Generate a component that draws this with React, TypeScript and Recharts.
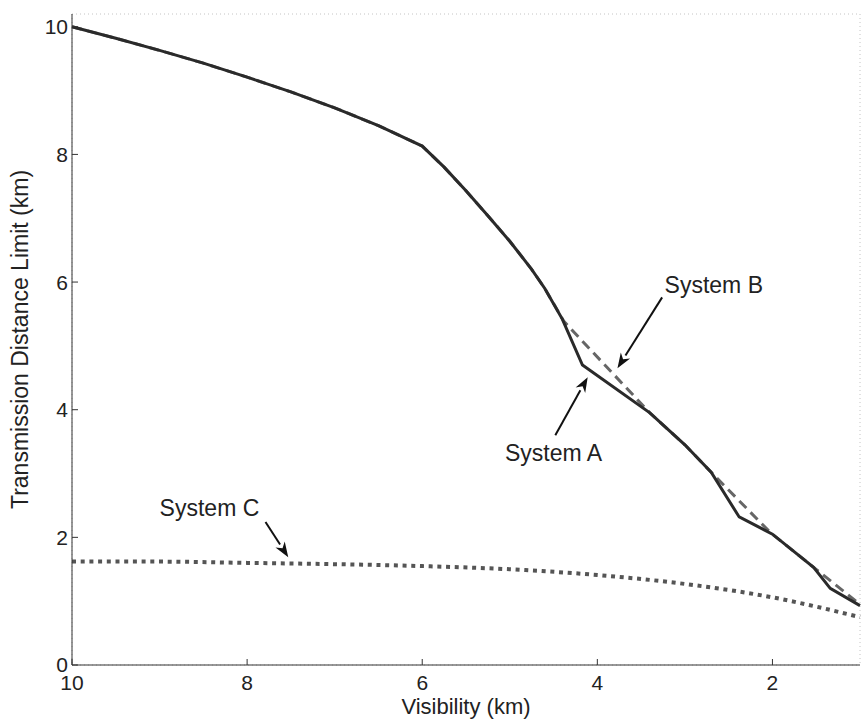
import { LineChart, Line, XAxis, YAxis, CartesianGrid, ReferenceLine, ReferenceDot } from 'recharts'

// visibility (km) -> transmission distance limit (km)
const SYS_A_X = [10, 9.5, 9, 8.5, 8, 7.5, 7, 6.5, 6, 5.75, 5.5, 5.25, 5, 4.75, 4.6, 4.4, 4.17, 3.4, 3.0, 2.7, 2.38, 2.0, 1.53, 1.34, 1.0]
const SYS_A_Y = [10.0, 9.82, 9.63, 9.43, 9.21, 8.98, 8.73, 8.45, 8.13, 7.8, 7.43, 7.04, 6.64, 6.2, 5.9, 5.42, 4.7, 3.95, 3.45, 3.02, 2.32, 2.05, 1.53, 1.2, 0.93]

const SYS_B_X = [10, 9.5, 9, 8.5, 8, 7.5, 7, 6.5, 6, 5.75, 5.5, 5.25, 5, 4.75, 4.6, 4.38, 3.4, 3.0, 2.7, 2.02, 1.53, 1.0]
const SYS_B_Y = [10.0, 9.82, 9.63, 9.43, 9.21, 8.98, 8.73, 8.45, 8.13, 7.8, 7.43, 7.04, 6.64, 6.2, 5.9, 5.38, 3.95, 3.45, 3.02, 2.07, 1.53, 0.95]

const SYS_C_X = [10, 9, 8, 7, 6, 5, 4, 3, 2, 1]
const SYS_C_Y = [1.62, 1.62, 1.6, 1.58, 1.55, 1.5, 1.41, 1.27, 1.06, 0.75]

const X_TICKS = [10, 8, 6, 4, 2]
const Y_TICKS = [0, 2, 4, 6, 8, 10]

const LABELS = [
  { text: 'System A', x: 4.5, y: 3.33 },
  { text: 'System B', x: 2.67, y: 5.95 },
  { text: 'System C', x: 8.43, y: 2.46 },
]
// [tail, head] in data units
const ARROWS = [
  [{ x: 4.48, y: 3.6 }, { x: 4.11, y: 4.51 }],
  [{ x: 3.26, y: 5.76 }, { x: 3.77, y: 4.65 }],
  [{ x: 7.79, y: 2.24 }, { x: 7.53, y: 1.69 }],
]

const toPoints = (xs: number[], ys: number[]) => xs.map((x, i) => ({ x, y: ys[i] }))

const FONT = '"Liberation Sans", Arial, sans-serif'
const TICK_MARGIN_X = 10
const TICK_MARGIN_Y = 4

function Arrow(props: any) {
  const { x1, y1, x2, y2 } = props
  const ang = Math.atan2(y2 - y1, x2 - x1)
  const len = 15
  const hw = 5.5
  const bx = x2 - len * Math.cos(ang)
  const by = y2 - len * Math.sin(ang)
  const px = -Math.sin(ang) * hw
  const py = Math.cos(ang) * hw
  return (
    <g>
      <line x1={x1} y1={y1} x2={bx} y2={by} stroke="#111" strokeWidth={2} />
      <polygon points={`${x2},${y2} ${bx + px},${by + py} ${bx + 0.3 * len * Math.cos(ang)},${by + 0.3 * len * Math.sin(ang)} ${bx - px},${by - py}`} fill="#111" />
    </g>
  )
}

function BottomTick(props: any) {
  const { x, y, payload } = props
  const axisY = y - TICK_MARGIN_X
  return (
    <g>
      <line x1={x} y1={axisY} x2={x} y2={axisY - 6} stroke="#333" strokeWidth={1} />
      <text x={x} y={y} dy="0.71em" textAnchor="middle" fontSize={21} fontFamily={FONT} fill="#222">{payload.value}</text>
    </g>
  )
}

function LeftTick(props: any) {
  const { x, y, payload } = props
  const axisX = x + TICK_MARGIN_Y
  return (
    <g>
      <line x1={axisX} y1={y} x2={axisX + 6} y2={y} stroke="#333" strokeWidth={1} />
      <text x={x} y={y} dy="0.355em" textAnchor="end" fontSize={21} fontFamily={FONT} fill="#222">{payload.value}</text>
    </g>
  )
}

export default function App() {
  return (
    <div style={{ position: 'absolute', left: 0, top: 0, background: '#fff' }}>
      <LineChart width={862} height={721} margin={{ top: 14, right: 2, bottom: 0, left: 0 }}>
        <CartesianGrid stroke="#c4c4c4" strokeDasharray="1 3" />
        <XAxis
          xAxisId="b" type="number" dataKey="x" domain={[1, 10]} reversed ticks={X_TICKS}
          height={56} tickSize={0} tickMargin={TICK_MARGIN_X} tick={<BottomTick />}
          axisLine={{ stroke: '#333' }} tickLine={false}
          label={{ value: 'Visibility (km)', position: 'insideBottom', offset: 7, fontSize: 22, fontFamily: FONT, fill: '#222' }}
        />
        <XAxis
          xAxisId="t" orientation="top" type="number" dataKey="x" domain={[1, 10]} reversed ticks={X_TICKS}
          height={0} mirror tick={false} tickSize={6} axisLine={{ stroke: '#333' }} tickLine={{ stroke: '#333' }}
        />
        <YAxis
          yAxisId="l" type="number" domain={[0, 10.2]} ticks={Y_TICKS} width={72}
          tickSize={0} tickMargin={TICK_MARGIN_Y} tick={<LeftTick />}
          axisLine={{ stroke: '#333' }} tickLine={false}
          label={{ value: 'Transmission Distance Limit (km)', angle: -90, position: 'insideLeft', offset: 20, fontSize: 23, fontFamily: FONT, fill: '#222', style: { textAnchor: 'middle' } }}
        />
        <YAxis
          yAxisId="r" orientation="right" type="number" domain={[0, 10.2]} ticks={Y_TICKS} width={0}
          mirror tick={false} tickSize={6} axisLine={{ stroke: '#333' }} tickLine={{ stroke: '#333' }}
        />
        <Line xAxisId="b" yAxisId="l" data={toPoints(SYS_C_X, SYS_C_Y)} dataKey="y" type="monotone"
          stroke="#555" strokeWidth={4} strokeDasharray="4 4.7" dot={false} isAnimationActive={false} />
        <Line xAxisId="b" yAxisId="l" data={toPoints(SYS_B_X, SYS_B_Y)} dataKey="y" type="linear"
          stroke="#666" strokeWidth={3} strokeDasharray="10 6" dot={false} isAnimationActive={false} />
        <Line xAxisId="b" yAxisId="l" data={toPoints(SYS_A_X, SYS_A_Y)} dataKey="y" type="linear"
          stroke="#2a2a2a" strokeWidth={3} dot={false} isAnimationActive={false} />
        {ARROWS.map((seg, i) => (
          <ReferenceLine key={'a' + i} xAxisId="b" yAxisId="l" segment={seg} shape={Arrow} ifOverflow="visible" />
        ))}
        {LABELS.map((l) => (
          <ReferenceDot
            key={l.text} xAxisId="b" yAxisId="l" x={l.x} y={l.y} r={0} ifOverflow="visible"
            shape={(p: any) => (
              <text x={p.cx} y={p.cy} dy="0.355em" textAnchor="middle" fontSize={23} fontFamily={FONT} fill="#222">{l.text}</text>
            )}
          />
        ))}
      </LineChart>
    </div>
  )
}
